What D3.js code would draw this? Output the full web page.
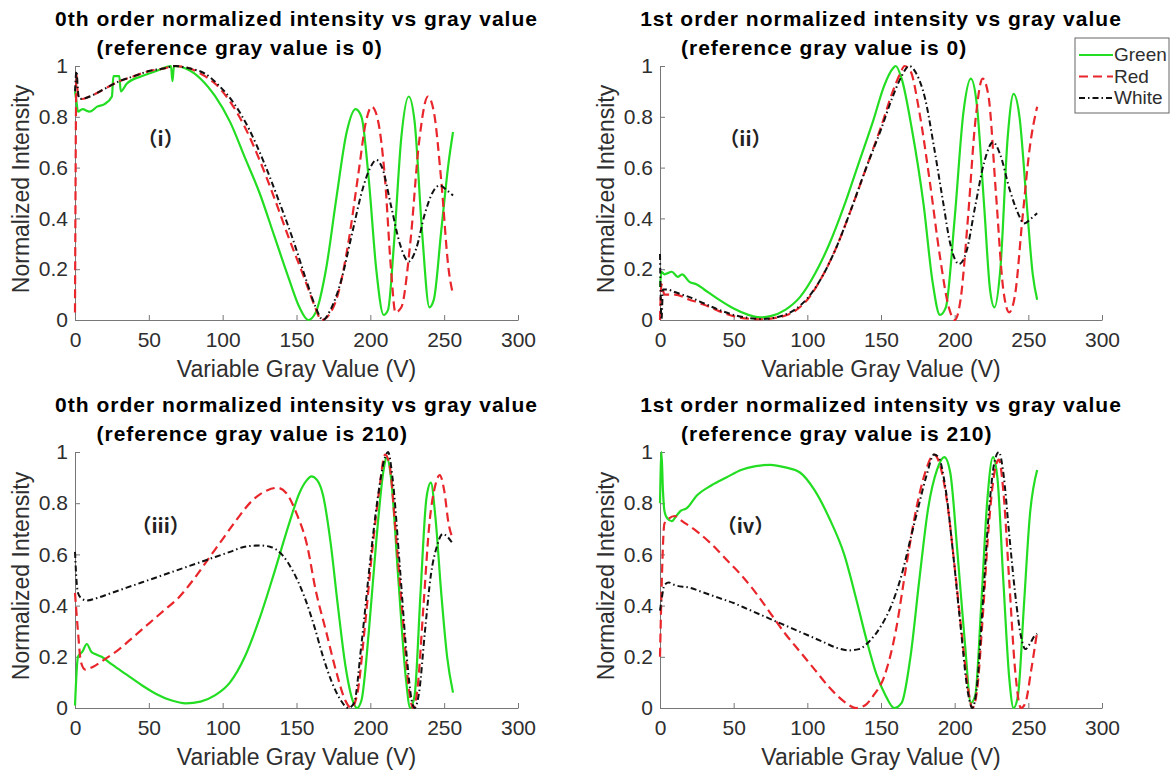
<!DOCTYPE html>
<meta charset="utf-8">
<script src="https://d3js.org/d3.v7.min.js"></script>
<style>
  body { margin: 0; background: #fff; }
  text { font-family: "Liberation Sans", Arial, sans-serif; }
</style>
<svg id="chart" width="1175" height="776"></svg>
<script>

// x ticks / y ticks
var xTicks = [0, 50, 100, 150, 200, 250, 300];
var yTicks = [0, 0.2, 0.4, 0.6, 0.8, 1];
var seriesNames = ["Green", "Red", "White"];

// (i) 0th order, reference gray 0   -> [gray value, normalized intensity]
var green0thRef0 = [[0,0.9],[1,0.86],[2,0.82],[5,0.83],[10,0.82],[15,0.84],[20,0.85],[25,0.88],[26,0.96],[30,0.96],[31,0.9],[35,0.93],[45,0.96],[55,0.98],[65,1.0],[66,0.94],[67,1.0],[75,0.99],[85,0.95],[95,0.88],[105,0.78],[115,0.64],[125,0.5],[135,0.33],[145,0.16],[152,0.05],[158,0.0],[163,0.03],[170,0.2],[177,0.48],[184,0.74],[190,0.83],[194,0.8],[199,0.55],[204,0.2],[209,0.02],[212,0.04],[216,0.3],[221,0.72],[226,0.88],[230,0.78],[235,0.35],[240,0.05],[243,0.08],[248,0.35],[253,0.62],[256,0.74]];
var red0thRef0 = [[0,0.03],[1,0.97],[2,0.88],[5,0.87],[10,0.88],[20,0.91],[30,0.94],[40,0.96],[50,0.98],[60,0.99],[67,1.0],[75,0.995],[85,0.97],[95,0.93],[105,0.86],[115,0.76],[125,0.63],[135,0.48],[145,0.32],[155,0.17],[162,0.06],[167,0.0],[172,0.02],[178,0.1],[185,0.3],[192,0.58],[197,0.78],[201,0.84],[205,0.79],[210,0.55],[214,0.2],[217,0.03],[221,0.05],[227,0.3],[233,0.7],[239,0.88],[243,0.82],[248,0.55],[253,0.2],[256,0.1]];
var white0thRef0 = [[0,0.9],[1,0.98],[2,0.9],[3,0.87],[10,0.88],[20,0.91],[30,0.94],[40,0.96],[50,0.98],[60,0.99],[68,1.0],[78,0.99],[88,0.97],[98,0.92],[108,0.85],[118,0.75],[128,0.62],[138,0.47],[148,0.31],[157,0.15],[163,0.05],[168,0.0],[173,0.04],[180,0.15],[188,0.35],[195,0.52],[200,0.6],[204,0.63],[208,0.6],[214,0.45],[220,0.3],[226,0.23],[231,0.28],[237,0.42],[242,0.5],[247,0.53],[252,0.51],[256,0.49]];

// (ii) 1st order, reference gray 0
var green1stRef0 = [[0,0.13],[1,0.19],[3,0.18],[8,0.19],[12,0.17],[15,0.18],[20,0.15],[25,0.14],[30,0.12],[40,0.08],[50,0.045],[60,0.02],[68,0.01],[75,0.015],[85,0.04],[95,0.09],[105,0.18],[115,0.3],[125,0.45],[135,0.62],[145,0.79],[152,0.92],[158,0.99],[160,1.0],[164,0.95],[171,0.75],[179,0.45],[185,0.15],[190,0.02],[194,0.05],[200,0.4],[206,0.82],[211,0.95],[215,0.85],[220,0.45],[224,0.12],[227,0.05],[231,0.2],[236,0.72],[240,0.89],[244,0.8],[249,0.45],[253,0.18],[256,0.08]];
var red1stRef0 = [[0,0.0],[1,0.14],[3,0.1],[10,0.1],[20,0.08],[30,0.06],[40,0.035],[50,0.015],[60,0.005],[70,0.003],[80,0.01],[90,0.03],[100,0.08],[110,0.17],[120,0.29],[130,0.44],[140,0.6],[150,0.76],[158,0.9],[163,0.97],[166,1.0],[170,0.98],[176,0.82],[183,0.55],[190,0.25],[196,0.05],[200,0.0],[204,0.08],[209,0.4],[214,0.78],[219,0.95],[223,0.88],[228,0.5],[233,0.12],[237,0.03],[241,0.1],[246,0.4],[251,0.68],[256,0.84]];
var white1stRef0 = [[0,0.26],[1,0.0],[2,0.12],[5,0.12],[10,0.11],[15,0.1],[20,0.09],[30,0.065],[40,0.04],[50,0.02],[60,0.008],[70,0.004],[80,0.012],[90,0.035],[100,0.085],[110,0.17],[120,0.29],[130,0.44],[140,0.6],[150,0.75],[158,0.88],[164,0.96],[169,1.0],[174,0.97],[180,0.87],[186,0.68],[192,0.47],[197,0.3],[203,0.22],[208,0.27],[214,0.45],[220,0.62],[226,0.7],[231,0.65],[237,0.52],[243,0.42],[247,0.38],[252,0.4],[256,0.42]];

// (iii) 0th order, reference gray 210
var green0thRef210 = [[0,0.01],[2,0.2],[5,0.22],[8,0.25],[11,0.22],[14,0.21],[18,0.2],[25,0.17],[35,0.13],[45,0.09],[55,0.055],[65,0.03],[75,0.018],[85,0.025],[95,0.05],[105,0.1],[115,0.2],[125,0.35],[135,0.53],[145,0.72],[152,0.84],[157,0.89],[160,0.905],[164,0.89],[168,0.83],[173,0.65],[178,0.4],[183,0.17],[188,0.03],[191,0.0],[194,0.03],[199,0.3],[204,0.65],[209,0.93],[211,0.98],[214,0.9],[219,0.5],[224,0.12],[227,0.0],[230,0.05],[234,0.45],[238,0.82],[241,0.88],[244,0.75],[248,0.45],[252,0.2],[256,0.06]];
var red0thRef210 = [[0,0.45],[2,0.3],[4,0.18],[7,0.15],[12,0.16],[20,0.19],[30,0.23],[40,0.28],[50,0.33],[60,0.38],[70,0.43],[80,0.5],[90,0.58],[100,0.66],[110,0.74],[120,0.81],[130,0.85],[137,0.86],[143,0.84],[150,0.76],[157,0.64],[163,0.46],[170,0.3],[177,0.14],[183,0.03],[187,0.0],[191,0.05],[196,0.3],[201,0.6],[206,0.85],[210,0.99],[213,0.95],[217,0.7],[222,0.35],[226,0.08],[229,0.0],[232,0.08],[236,0.4],[240,0.72],[244,0.87],[247,0.91],[250,0.85],[253,0.72],[256,0.66]];
var white0thRef210 = [[0,0.61],[1,0.5],[2,0.45],[4,0.43],[8,0.42],[15,0.43],[25,0.45],[35,0.47],[45,0.49],[55,0.51],[65,0.53],[75,0.55],[85,0.57],[95,0.59],[105,0.61],[115,0.63],[125,0.635],[132,0.63],[140,0.6],[148,0.53],[155,0.44],[162,0.32],[168,0.2],[174,0.1],[180,0.03],[185,0.0],[189,0.02],[194,0.25],[200,0.58],[205,0.82],[210,0.98],[212,1.0],[215,0.9],[220,0.55],[225,0.18],[228,0.03],[230,0.0],[233,0.06],[237,0.3],[241,0.52],[245,0.63],[249,0.68],[252,0.67],[256,0.64]];

// (iv) 1st order, reference gray 210
var green1stRef210 = [[0,0.8],[1,1.0],[2,0.85],[3,0.77],[5,0.74],[8,0.73],[11,0.75],[14,0.77],[18,0.78],[25,0.83],[35,0.87],[45,0.9],[55,0.93],[65,0.945],[75,0.95],[85,0.94],[95,0.92],[105,0.85],[115,0.74],[125,0.6],[133,0.43],[140,0.27],[147,0.13],[153,0.05],[159,0.0],[164,0.02],[170,0.2],[176,0.5],[182,0.78],[188,0.93],[193,0.98],[197,0.92],[202,0.6],[207,0.25],[211,0.02],[214,0.05],[218,0.4],[222,0.8],[226,0.98],[229,0.9],[233,0.5],[237,0.12],[240,0.0],[243,0.05],[247,0.4],[251,0.75],[256,0.93]];
var red1stRef210 = [[0,0.2],[1,0.45],[3,0.72],[6,0.74],[10,0.75],[15,0.73],[25,0.69],[35,0.64],[45,0.58],[55,0.52],[65,0.45],[75,0.37],[85,0.29],[95,0.22],[105,0.15],[115,0.08],[125,0.025],[133,0.0],[139,0.01],[145,0.05],[152,0.12],[160,0.3],[167,0.55],[174,0.78],[180,0.92],[186,0.99],[190,0.95],[195,0.8],[200,0.55],[205,0.28],[209,0.08],[212,0.0],[215,0.06],[219,0.35],[223,0.7],[227,0.92],[230,0.97],[233,0.85],[237,0.5],[241,0.15],[245,0.0],[248,0.02],[252,0.15],[256,0.3]];
var white1stRef210 = [[0,0.38],[1,0.42],[3,0.48],[6,0.49],[10,0.48],[20,0.47],[30,0.45],[40,0.43],[50,0.41],[60,0.385],[70,0.36],[80,0.335],[90,0.31],[100,0.285],[110,0.26],[120,0.235],[128,0.225],[135,0.23],[142,0.26],[150,0.32],[157,0.4],[164,0.52],[170,0.66],[176,0.8],[181,0.91],[186,0.99],[189,0.98],[194,0.85],[199,0.6],[204,0.32],[209,0.06],[212,0.0],[215,0.08],[219,0.4],[223,0.75],[227,0.96],[230,1.0],[233,0.92],[237,0.68],[241,0.45],[245,0.28],[248,0.23],[251,0.25],[254,0.28],[256,0.29]];

var panels = [
  {title: "0th order normalized intensity vs gray value", sub: "(reference gray value is 0)", tag: "（i）",
   x0: 75, x1: 518, y0: 320, y1: 66, series: [green0thRef0, red0thRef0, white0thRef0]},
  {title: "1st order normalized intensity vs gray value", sub: "(reference gray value is 0)", tag: "（ii）",
   x0: 660, x1: 1102, y0: 320, y1: 66, series: [green1stRef0, red1stRef0, white1stRef0]},
  {title: "0th order normalized intensity vs gray value", sub: "(reference gray value is 210)", tag: "（iii）",
   x0: 75, x1: 518, y0: 708, y1: 452, series: [green0thRef210, red0thRef210, white0thRef210]},
  {title: "1st order normalized intensity vs gray value", sub: "(reference gray value is 210)", tag: "（iv）",
   x0: 660, x1: 1102, y0: 708, y1: 452, series: [green1stRef210, red1stRef210, white1stRef210]}
];

var styles = [
  {color: "#22dd22", dash: null, width: 2.2},
  {color: "#e8262b", dash: "9,5", width: 2.2},
  {color: "#111111", dash: "6,3,1.5,3", width: 2}
];

var svg = d3.select("#chart");
var axisColor = "#777";
var textColor = "#2e2e2e";

panels.forEach(function(p) {
  var x = d3.scaleLinear().domain([0, 300]).range([p.x0, p.x1]);
  var y = d3.scaleLinear().domain([0, 1]).range([p.y0, p.y1]);
  var g = svg.append("g");

  // axes
  var xAxis = g.append("g")
      .attr("transform", "translate(0," + p.y0 + ")")
      .call(d3.axisBottom(x).tickValues(xTicks).tickSizeInner(-5).tickSizeOuter(0).tickPadding(12));
  var yAxis = g.append("g")
      .attr("transform", "translate(" + p.x0 + ",0)")
      .call(d3.axisLeft(y).tickValues(yTicks).tickFormat(d3.format("~g")).tickSizeInner(-5).tickSizeOuter(0).tickPadding(7));
  [xAxis, yAxis].forEach(function(a) {
    a.selectAll("path, line").attr("stroke", axisColor);
    a.selectAll("text").attr("fill", textColor).style("font-size", "21px")
      .style("font-family", "Liberation Sans, Arial, sans-serif");
  });

  // curves
  var line = d3.line()
      .x(function(d) { return x(d[0]); })
      .y(function(d) { return y(d[1]); })
      .curve(d3.curveMonotoneX);
  p.series.forEach(function(s, i) {
    g.append("path")
      .attr("d", line(s))
      .attr("fill", "none")
      .attr("stroke", styles[i].color)
      .attr("stroke-width", styles[i].width)
      .attr("stroke-dasharray", styles[i].dash);
  });

  var cx = (p.x0 + p.x1) / 2;
  // titles
  g.append("text").attr("x", cx).attr("y", p.y1 - 40).attr("text-anchor", "middle")
    .style("font-size", "21px").style("font-weight", "bold").style("letter-spacing", "1px")
    .attr("fill", "#000").text(p.title);
  g.append("text").attr("x", cx - 200).attr("y", p.y1 - 11)
    .style("font-size", "21px").style("font-weight", "bold").style("letter-spacing", "1px")
    .attr("fill", "#000").text(p.sub);

  // axis labels
  g.append("text").attr("x", cx).attr("y", p.y0 + 57).attr("text-anchor", "middle")
    .style("font-size", "23px").attr("fill", textColor).text("Variable Gray Value (V)");
  g.append("text")
    .attr("transform", "translate(" + (p.x0 - 46) + "," + ((p.y0 + p.y1) / 2 - 4) + ") rotate(-90)")
    .attr("text-anchor", "middle")
    .style("font-size", "23px").attr("fill", textColor).text("Normalized Intensity");

  // panel tag
  g.append("text").attr("x", x(58)).attr("y", y(0.685))
    .attr("text-anchor", "middle")
    .style("font-family", "Noto Sans CJK SC, sans-serif")
    .style("font-size", "20px").style("font-weight", "bold").attr("fill", "#222").text(p.tag);
});

// legend
var lg = svg.append("g").attr("transform", "translate(1075,38)");
lg.append("rect").attr("width", 94).attr("height", 75)
  .attr("fill", "#fff").attr("stroke", "#666").attr("stroke-width", 1);
seriesNames.forEach(function(name, i) {
  var yy = 17 + i * 21.5;
  lg.append("line").attr("x1", 4).attr("x2", 38).attr("y1", yy).attr("y2", yy)
    .attr("stroke", styles[i].color).attr("stroke-width", styles[i].width)
    .attr("stroke-dasharray", styles[i].dash);
  lg.append("text").attr("x", 39).attr("y", yy + 6)
    .style("font-size", "19px").attr("fill", textColor).text(name);
});

</script>
